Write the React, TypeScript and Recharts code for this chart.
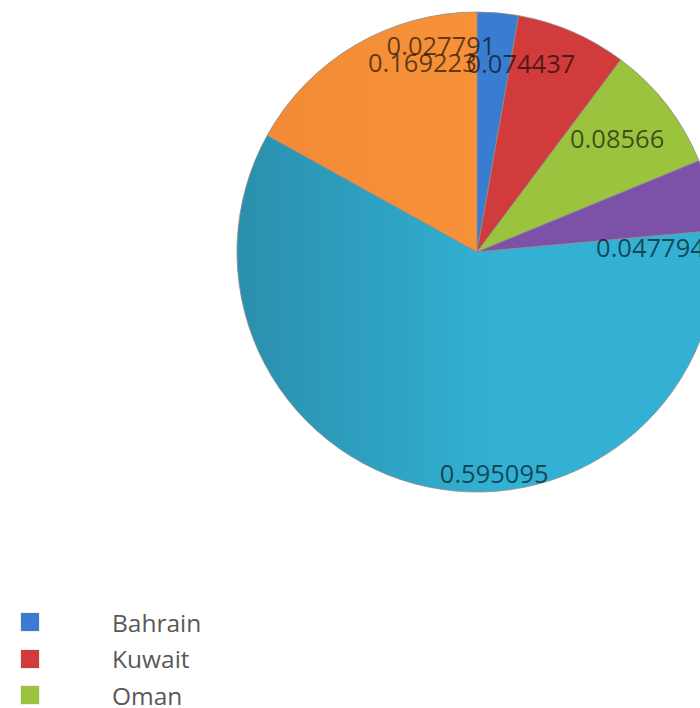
import React from "react";
import { PieChart, Pie, Cell, Legend } from "recharts";

const countries = ["Bahrain", "Kuwait", "Oman", "Qatar", "Saudi Arabia", "UAE"];
const shares = [0.027791, 0.074437, 0.08566, 0.047794, 0.595095, 0.169223];
const labels = ["0.027791", "0.074437", "0.08566", "0.047794", "0.595095", "0.169223"];

const COLORS = ["#3a7dd0", "#d23b3b", "#9cc33e", "#7c52a9", "#32b1d5", "#f8923a"];
const DARK = ["#3a7dd0", "#d23b3b", "#9cc33e", "#7c52a9", "#2a8fac", "#f08a34"];
// label nudges (px) relative to the radial anchor point
const LABEL_NUDGE: [number, number][] = [
  [-54, -1],
  [-38, 0],
  [-23, 12],
  [-27, 44],
  [60, 19],
  [50, -12],
];

const W = 700;
const H = 708;
const CX = 477;
const CY = 252;
const R = 240;
const RAD = Math.PI / 180;

const data = countries.map((name, i) => ({ name, value: shares[i], label: labels[i] }));

const renderLabel = (p: any) => {
  const { cx, cy, midAngle, outerRadius, index } = p;
  const r = outerRadius * 0.86;
  const x = cx + r * Math.cos(-midAngle * RAD) + LABEL_NUDGE[index][0];
  const y = cy + r * Math.sin(-midAngle * RAD) + LABEL_NUDGE[index][1];
  return (
    <text
      x={x}
      y={y}
      textAnchor="middle"
      dominantBaseline="central"
      fontFamily="'Open Sans', sans-serif"
      fontSize={25.5}
      fill="#000"
      fillOpacity={0.62}
    >
      {data[index].label}
    </text>
  );
};

const renderLegend = () => (
  <div style={{ position: "relative", width: 300 }}>
    {countries.map((c, i) => (
      <div
        key={c}
        style={{
          display: "flex",
          alignItems: "center",
          height: 36.5,
          fontFamily: "'Open Sans', sans-serif",
          fontSize: 24.5,
          color: "#595959",
        }}
      >
        <span
          style={{
            display: "inline-block",
            width: 18,
            height: 18,
            marginLeft: 21,
            marginRight: 73,
            background: COLORS[i],
            boxShadow: "0 0 1px rgba(0,0,0,0.4)",
          }}
        />
        <span>{c}</span>
      </div>
    ))}
  </div>
);

export default function App() {
  return (
    <div
      style={{
        position: "fixed",
        left: 0,
        top: 0,
        width: W,
        height: H,
        overflow: "hidden",
        background: "#fff",
      }}
    >
      <PieChart width={W} height={H} margin={{ top: 0, right: 0, bottom: 0, left: 0 }}>
        <defs>
          {COLORS.map((c, i) => (
            <linearGradient
              key={i}
              id={`g${i}`}
              gradientUnits="userSpaceOnUse"
              x1={CX - R}
              y1={0}
              x2={CX + R * 0.1}
              y2={0}
            >
              <stop offset="0" stopColor={DARK[i]} />
              <stop offset="1" stopColor={c} />
            </linearGradient>
          ))}
        </defs>
        <Pie
          data={data}
          dataKey="value"
          nameKey="name"
          cx={CX}
          cy={CY}
          outerRadius={R}
          startAngle={90}
          endAngle={-270}
          stroke="#8c8c8c"
          strokeWidth={0.8}
          label={renderLabel}
          labelLine={false}
          isAnimationActive={false}
        >
          {data.map((d, i) => (
            <Cell key={d.name} fill={`url(#g${i})`} />
          ))}
        </Pie>
        <Legend
          content={renderLegend}
          wrapperStyle={{ position: "absolute", left: 0, top: 604, width: 300 }}
        />
      </PieChart>
    </div>
  );
}
